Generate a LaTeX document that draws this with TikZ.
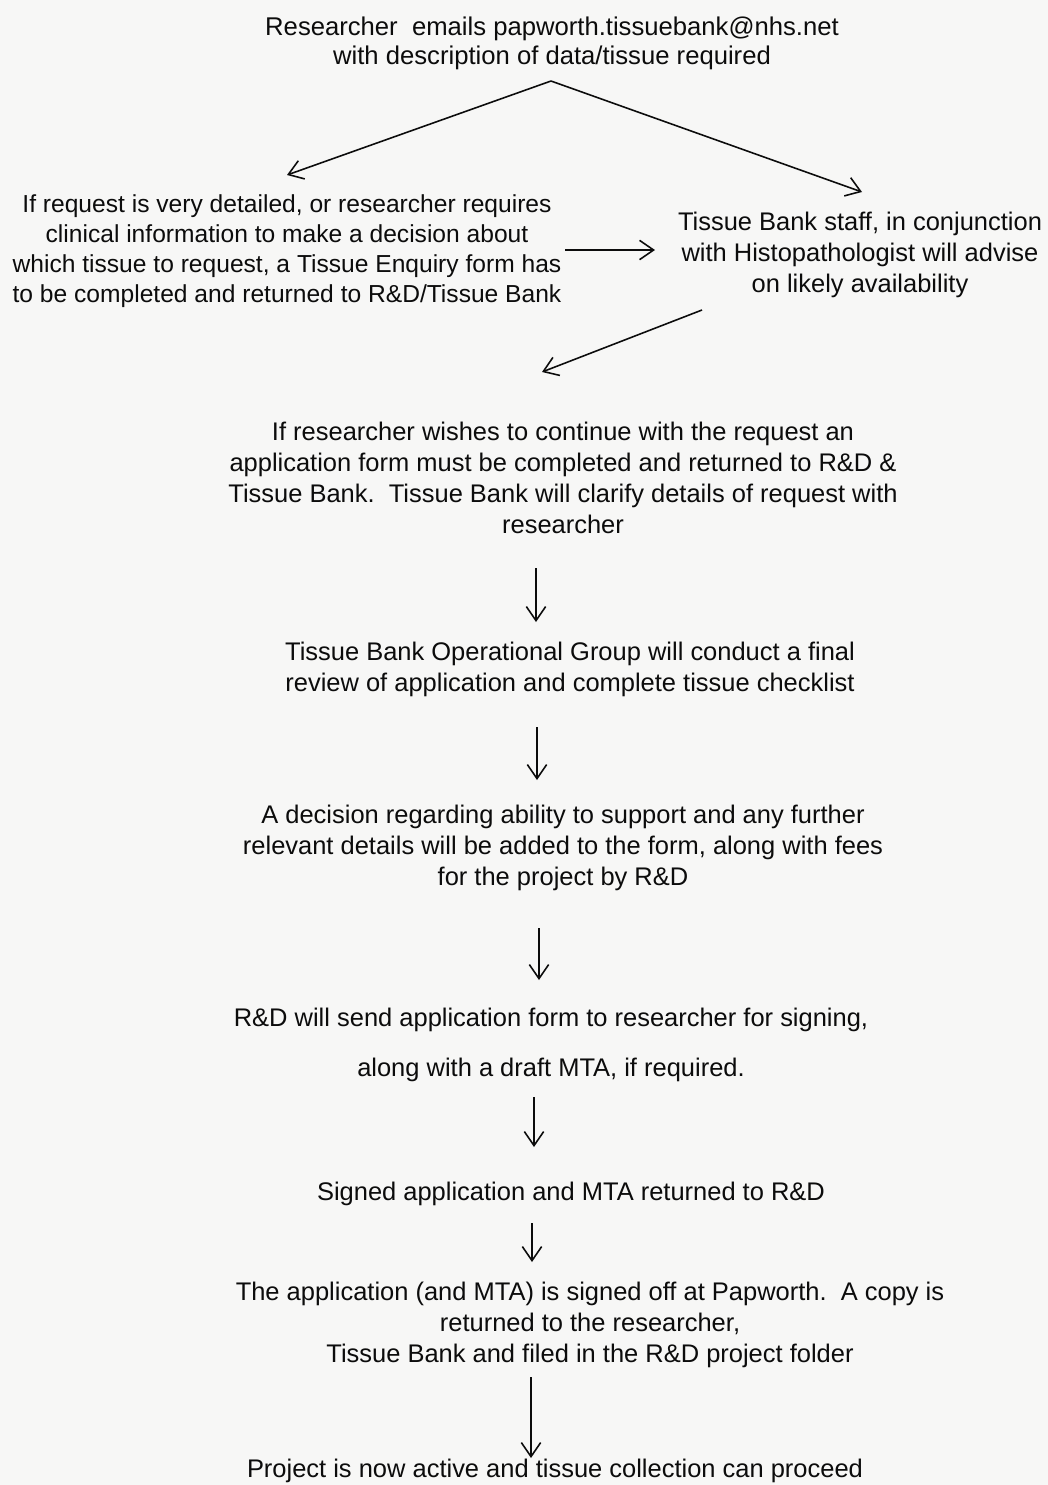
\documentclass[tikz,border=0pt]{standalone}
\usepackage{fontspec}
\setmainfont{Liberation Sans}
\usetikzlibrary{arrows.meta}
\definecolor{paper}{RGB}{247,247,246}
\definecolor{ink}{RGB}{12,12,12}
\begin{document}
\begin{tikzpicture}[x=0.02cm,y=-0.02cm,
  txt/.style={font=\fontsize{14.5pt}{17.7pt}\selectfont, align=center, inner sep=0pt, text=ink},
  arr/.style={draw=ink, line width=0.9pt, -{Straight Barb[length=8pt,width=11pt]}}]
\fill[paper] (0,0) rectangle (1048,1485);
\useasboundingbox (0,0) rectangle (1048,1485);

\node[txt, font=\fontsize{14.6pt}{16.6pt}\selectfont] (top) at (552,43)
  {Researcher\ \ emails papworth.tissuebank@nhs.net\\with description of data/tissue required};
\node[txt, font=\fontsize{14pt}{17.2pt}\selectfont] (left) at (287,251)
  {If request is very detailed, or researcher requires\\clinical information to make a decision about\\which tissue to request, a Tissue Enquiry form has\\to be completed and returned to R\&D/Tissue Bank};
\node[txt] (right) at (860,255)
  {Tissue Bank staff, in conjunction\\with Histopathologist will advise\\on likely availability};
\node[txt] (cont) at (563,478)
  {If researcher wishes to continue with the request an\\application form must be completed and returned to R\&D \&\\Tissue Bank.\ \ Tissue Bank will clarify details of request with\\researcher};
\node[txt] (review) at (570,669)
  {Tissue Bank Operational Group will conduct a final\\review of application and complete tissue checklist};
\node[txt] (decide) at (563,848)
  {A decision regarding ability to support and any further\\relevant details will be added to the form, along with fees\\for the project by R\&D};
\node[txt] (send) at (551,1045)
  {R\&D will send application form to researcher for signing,\\[11pt]along with a draft MTA, if required.};
\node[txt] (signed) at (571,1194)
  {Signed application and MTA returned to R\&D};
\node[txt] (signoff) at (590,1325)
  {The application (and MTA) is signed off at Papworth.\ \ A copy is\\returned to the researcher,\\Tissue Bank and filed in the R\&D project folder};
\node[txt] (active) at (555,1471)
  {Project is now active and tissue collection can proceed};

% connector end points
\coordinate (t0) at (551,81);
\coordinate (l1) at (287,175);
\coordinate (r1) at (862,192);
\coordinate (h0) at (565,250);
\coordinate (h1) at (655,250);
\coordinate (d0) at (702,310);
\coordinate (d1) at (542,372);
\coordinate (v1a) at (536,568);  \coordinate (v1b) at (536,622);
\coordinate (v2a) at (537,727);  \coordinate (v2b) at (537,780);
\coordinate (v3a) at (539,928);  \coordinate (v3b) at (539,980);
\coordinate (v4a) at (534,1097); \coordinate (v4b) at (534,1147);
\coordinate (v5a) at (532,1223); \coordinate (v5b) at (532,1262);
\coordinate (v6a) at (531,1377); \coordinate (v6b) at (531,1458);

\draw[arr] (t0) -- (l1);
\draw[arr] (t0) -- (r1);
\draw[arr] (h0) -- (h1);
\draw[arr] (d0) -- (d1);
\draw[arr] (v1a) -- (v1b);
\draw[arr] (v2a) -- (v2b);
\draw[arr] (v3a) -- (v3b);
\draw[arr] (v4a) -- (v4b);
\draw[arr] (v5a) -- (v5b);
\draw[arr] (v6a) -- (v6b);
\end{tikzpicture}
\end{document}
